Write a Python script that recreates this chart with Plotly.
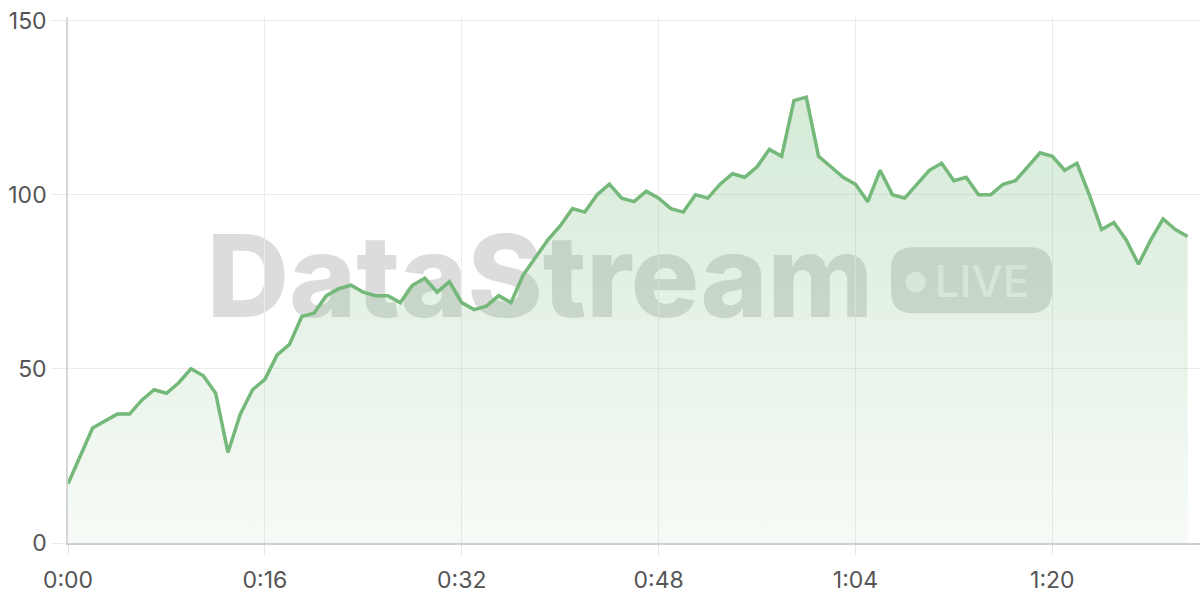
import plotly.graph_objects as go

# elapsed seconds
seconds = list(range(92))
values = [17, 25, 33, 35, 37, 37, 41, 44, 43, 46,
          50, 48, 43, 26, 37, 44, 47, 54, 57, 65,
          66, 71, 73, 74, 72, 71, 71, 69, 74, 76,
          72, 75, 69, 67, 68, 71, 69, 77, 82, 87,
          91, 96, 95, 100, 103, 99, 98, 101, 99, 96,
          95, 100, 99, 103, 106, 105, 108, 113, 111, 127,
          128, 111, 108, 105, 103, 98, 107, 100, 99, 103,
          107, 109, 104, 105, 100, 100, 103, 104, 108, 112,
          111, 107, 109, 100, 90, 92, 87, 80, 87, 93,
          90, 88]

x_tick_vals = [0, 16, 32, 48, 64, 80]
x_tick_text = ["0:00", "0:16", "0:32", "0:48", "1:04", "1:20"]
y_tick_vals = [0, 50, 100, 150]

GREEN = "#74b97a"
FONT = "Inter"

fig = go.Figure()
fig.add_trace(go.Scatter(
    x=seconds, y=values, mode="lines",
    line=dict(color=GREEN, width=3.5),
    fill="tozeroy",
    fillgradient=dict(type="vertical",
                      colorscale=[[0, "rgba(116,185,122,0.06)"],
                                  [1, "rgba(116,185,122,0.30)"]]),
    hoverinfo="skip", showlegend=False,
))

# plot area in page pixels: x 68..1200, y 20..543 for 0..150
PW, PH = 1132.0, 523.0
def px(xp):
    return (xp - 68) / PW
def py(yp):
    # paper fraction with the y range 0..151
    return (543 - yp) / PH * 150 / 151

shapes = []
# watermark text (below traces)
shapes.append(dict(
    type="rect", xref="paper", yref="paper", layer="below",
    x0=px(200), x1=px(880), y0=py(330), y1=py(212),
    line=dict(width=0), fillcolor="rgba(0,0,0,0)",
    label=dict(text="DataStream", textposition="middle center",
               font=dict(family=FONT, size=114, weight=800,
                         color="rgba(150,150,150,0.33)")),
))
# LIVE pill
x0, x1, y0, y1, r = 891, 1052, 247, 313, 22
def P(a, b):
    return f"{px(a):.5f},{py(b):.5f}"
path = (f"M {P(x0 + r, y0)} L {P(x1 - r, y0)} Q {P(x1, y0)} {P(x1, y0 + r)} "
        f"L {P(x1, y1 - r)} Q {P(x1, y1)} {P(x1 - r, y1)} "
        f"L {P(x0 + r, y1)} Q {P(x0, y1)} {P(x0, y1 - r)} "
        f"L {P(x0, y0 + r)} Q {P(x0, y0)} {P(x0 + r, y0)} Z")
shapes.append(dict(
    type="path", xref="paper", yref="paper", layer="below", path=path,
    line=dict(width=0), fillcolor="rgba(150,150,150,0.33)",
))
shapes.append(dict(
    type="circle", xref="paper", yref="paper", layer="below",
    x0=px(905.5), x1=px(926), y0=py(292), y1=py(271.5),
    line=dict(width=0), fillcolor="rgba(255,255,255,0.6)",
))
shapes.append(dict(
    type="rect", xref="paper", yref="paper", layer="below",
    x0=px(932), x1=px(1032), y0=py(302), y1=py(258),
    line=dict(width=0), fillcolor="rgba(0,0,0,0)",
    label=dict(text="LIVE", textposition="middle center",
               font=dict(family=FONT, size=44, weight=500,
                         color="rgba(255,255,255,0.6)")),
))

fig.update_layout(
    width=1200, height=600,
    margin=dict(l=68, r=0, t=16.5, b=57),
    paper_bgcolor="white", plot_bgcolor="white",
    font=dict(family=FONT, size=23, color="#555555"),
    shapes=shapes,
    xaxis=dict(range=[0, 92], tickvals=x_tick_vals, ticktext=x_tick_text,
               automargin=False, ticklabelstandoff=5,
               showgrid=True, gridcolor="#ebebeb", gridwidth=1,
               showline=True, linecolor="#cfcfcf", linewidth=2,
               ticks="outside", ticklen=10, tickcolor="#e3e3e3", tickwidth=1,
               zeroline=False, fixedrange=True),
    yaxis=dict(range=[0, 151], tickvals=y_tick_vals, automargin=False,
               showgrid=True, gridcolor="#ebebeb", gridwidth=1,
               showline=True, linecolor="#d6d6d6", linewidth=1.5,
               ticks="outside", ticklen=15, tickcolor="#ebebeb", tickwidth=1,
               zeroline=False, fixedrange=True),
)

fig.write_html("out.html", config={"displayModeBar": False},
               post_script="document.body.style.margin='0';")
